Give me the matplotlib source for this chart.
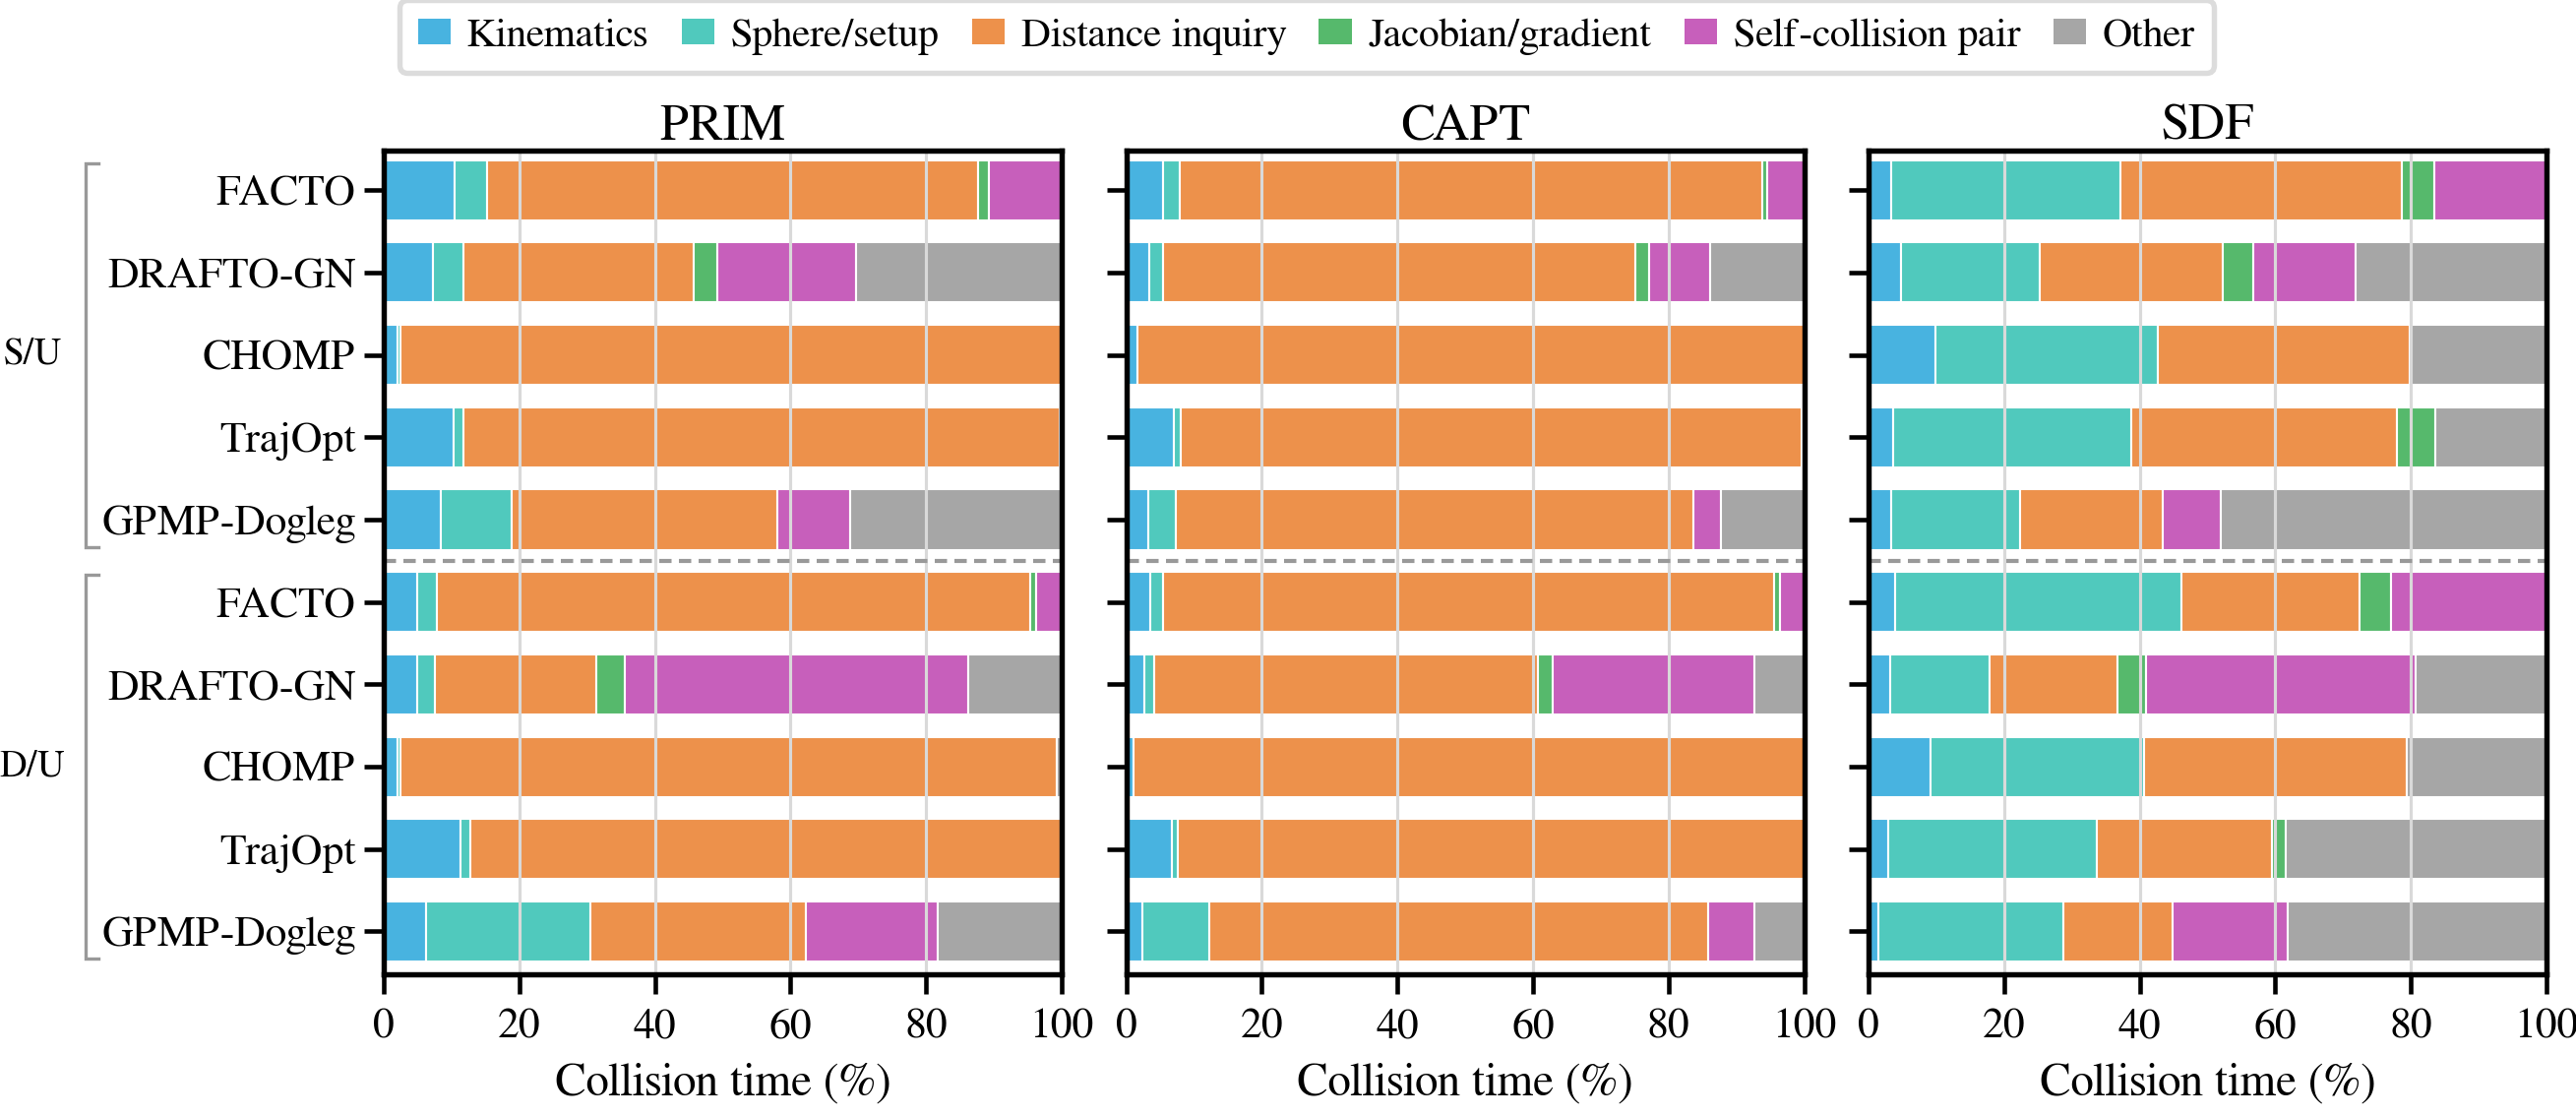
import matplotlib
matplotlib.use("Agg")
import matplotlib.pyplot as plt
import numpy as np
from matplotlib.patches import Patch
from matplotlib.transforms import blended_transform_factory
from matplotlib import font_manager as fm

# pick a Times-like serif font by file
def pick_serif():
    prefs = ["FreeSerif.ttf", "LiberationSerif-Regular.ttf", "Tinos-Regular.ttf", "DejaVuSerif.ttf"]
    files = {f.fname.split('/')[-1]: f.fname for f in fm.fontManager.ttflist}
    for p in prefs:
        if p in files:
            return fm.FontProperties(fname=files[p]).get_name()
    return "DejaVu Serif"

serif_name = pick_serif()
plt.rcParams['font.family'] = [serif_name, 'Liberation Serif', 'DejaVu Serif']

# ---------------- data ----------------
methods = ["FACTO", "DRAFTO-GN", "CHOMP", "TrajOpt", "GPMP-Dogleg",
           "FACTO", "DRAFTO-GN", "CHOMP", "TrajOpt", "GPMP-Dogleg"]
groups = ["S/U", "D/U"]
panels = ["PRIM", "CAPT", "SDF"]
categories = ["Kinematics", "Sphere/setup", "Distance inquiry",
              "Jacobian/gradient", "Self-collision pair", "Other"]
colors = ["#48B3E0", "#50C9BD", "#ED914B", "#56B96C", "#C75FBB", "#A6A6A6"]

# PRIM
prim_kin   = [10.5, 7.3, 2.0, 10.3, 8.4, 4.9, 5.0, 2.0, 11.3, 6.2]
prim_sph   = [4.8, 4.5, 0.4, 1.4, 10.5, 2.9, 2.5, 0.4, 1.5, 24.3]
prim_dist  = [72.4, 33.9, 97.6, 88.0, 39.1, 87.5, 23.9, 96.9, 87.0, 31.8]
prim_jac   = [1.5, 3.5, 0, 0, 0, 0.9, 4.2, 0, 0, 0]
prim_self  = [10.8, 20.5, 0, 0, 10.8, 3.8, 50.6, 0, 0, 19.4]
prim_other = [0, 30.3, 0, 0, 31.2, 0, 13.8, 0.7, 0, 18.3]

# CAPT
capt_kin   = [5.4, 3.4, 1.7, 7.0, 3.2, 3.5, 2.7, 1.1, 6.8, 2.4]
capt_sph   = [2.5, 2.1, 0, 1.1, 4.1, 2.0, 1.5, 0, 0.8, 9.8]
capt_dist  = [85.9, 69.6, 98.3, 91.6, 76.4, 90.1, 56.5, 98.9, 92.4, 73.7]
capt_jac   = [0.7, 2.0, 0, 0, 0, 0.9, 2.2, 0, 0, 0]
capt_self  = [5.5, 9.1, 0, 0, 4.1, 3.5, 29.8, 0, 0, 6.8]
capt_other = [0, 13.8, 0, 0, 12.2, 0, 7.3, 0, 0, 7.3]

# SDF
sdf_kin   = [3.3, 4.8, 9.9, 3.7, 3.3, 3.9, 3.2, 9.2, 2.9, 1.5]
sdf_sph   = [33.9, 20.4, 32.8, 35.0, 19.1, 42.3, 14.7, 31.5, 30.8, 27.3]
sdf_dist  = [41.5, 27.0, 37.1, 39.2, 21.0, 26.2, 18.8, 38.7, 25.8, 16.0]
sdf_jac   = [4.7, 4.6, 0, 5.7, 0, 4.7, 4.3, 0, 2.0, 0]
sdf_self  = [16.6, 15.1, 0, 0, 8.6, 22.9, 39.7, 0, 0, 17.0]
sdf_other = [0, 28.1, 20.2, 16.4, 48.0, 0, 19.3, 20.6, 38.5, 38.2]

xticks = [0, 20, 40, 60, 80, 100]

panel_data = {
    "PRIM": [prim_kin, prim_sph, prim_dist, prim_jac, prim_self, prim_other],
    "CAPT": [capt_kin, capt_sph, capt_dist, capt_jac, capt_self, capt_other],
    "SDF":  [sdf_kin, sdf_sph, sdf_dist, sdf_jac, sdf_self, sdf_other],
}

# ---------------- figure ----------------
W, H = 2618, 1135
DPI = 300
fig = plt.figure(figsize=(W / DPI, H / DPI), dpi=DPI)

ax_lefts = [390, 1144.5, 1899]
ax_w = 689
ax_top, ax_bot = 153, 990
axes = []
for i, name in enumerate(panels):
    ax = fig.add_axes([ax_lefts[i] / W, 1 - ax_bot / H, ax_w / W, (ax_bot - ax_top) / H])
    axes.append(ax)
    y = np.arange(len(methods))
    left = np.zeros(len(methods))
    for vals, col in zip(panel_data[name], colors):
        vals = np.array(vals, dtype=float)
        m = vals > 0
        ax.barh(y[m], vals[m], left=left[m], height=0.73, color=col,
                edgecolor="white", linewidth=0.5, zorder=1)
        left += vals
    ax.set_xlim(0, 100)
    ax.set_ylim(9.52, -0.48)
    ax.set_xticks(xticks)
    ax.set_xticklabels([str(t) for t in xticks], fontsize=10.5)
    ax.set_yticks(y)
    if i == 0:
        ax.set_yticklabels(methods, fontsize=10.5)
    else:
        ax.set_yticklabels([])
    ax.tick_params(axis='both', length=4.8, width=1.1, color='black')
    ax.tick_params(axis='y', pad=2)
    ax.grid(axis='x', color='#d9d9d9', linewidth=0.75)
    ax.set_axisbelow(False)
    ax.axhline(4.5, color='#999999', linewidth=1.0, linestyle=(0, (3, 1.8)), zorder=3)
    for sp in ax.spines.values():
        sp.set_linewidth(1.3)
        sp.set_color('black')
        sp.set_zorder(4)
    ax.set_title(name, fontsize=12.5, pad=2.5)
    ax.set_xlabel("Collision time (%)", fontsize=11.3)

# group brackets
ax0 = axes[0]
tr = blended_transform_factory(fig.transFigure, ax0.transData)
bx, bt = 86.7 / W, 100 / W
for (y0, y1), g, yc in [((-0.33, 4.33), "S/U", 2), ((4.67, 9.33), "D/U", 7)]:
    ax0.plot([bt, bx, bx, bt], [y0, y0, y1, y1], color='#999999', linewidth=0.8,
             transform=tr, clip_on=False, solid_joinstyle='miter')
    ax0.text(33 / W, yc, g, transform=tr, ha='center', va='center', fontsize=9.2)

# legend
handles = [Patch(facecolor=c, edgecolor='none') for c in colors]
leg = fig.legend(handles, categories, loc='center', bbox_to_anchor=(1328 / W, 1 - 37 / H),
                 ncol=6, frameon=True, fancybox=True, edgecolor='#d4d4d4',
                 handlelength=0.8, handleheight=0.55, handletextpad=0.4,
                 columnspacing=0.8, fontsize=10, borderpad=0.45)
leg.get_frame().set_linewidth(1.3)

fig.savefig("out.png", dpi=DPI)
